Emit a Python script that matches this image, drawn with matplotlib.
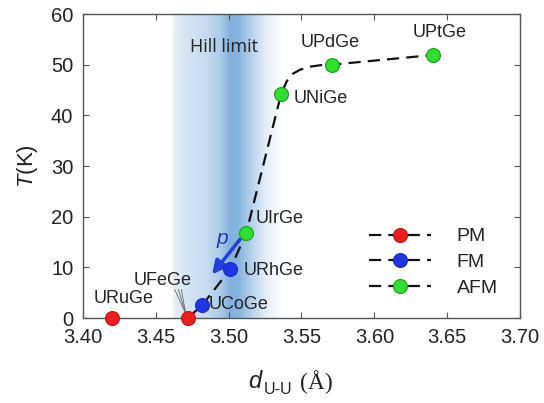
import numpy as np
import matplotlib
matplotlib.use('Agg')
import matplotlib.pyplot as plt
from matplotlib.lines import Line2D
from matplotlib.colors import LinearSegmentedColormap

plt.rcParams['font.family'] = 'Liberation Sans'
plt.rcParams['mathtext.fontset'] = 'custom'
plt.rcParams['mathtext.it'] = 'Liberation Sans:italic'
plt.rcParams['mathtext.rm'] = 'Liberation Sans'

# compounds: d_U-U (A), T (K)
names = ['URuGe', 'UFeGe', 'UCoGe', 'URhGe', 'UIrGe', 'UNiGe', 'UPdGe', 'UPtGe']
d_uu = [3.420, 3.472, 3.482, 3.501, 3.512, 3.536, 3.571, 3.640]
temp = [0.0, 0.0, 2.6, 9.6, 16.7, 44.2, 50.0, 51.9]
state = ['PM', 'PM', 'FM', 'FM', 'AFM', 'AFM', 'AFM', 'AFM']

# dashed guide curve
curve_x = [3.472, 3.482, 3.501, 3.512, 3.536, 3.540, 3.544, 3.549, 3.556, 3.563, 3.571, 3.600, 3.640]
curve_y = [0.0, 2.6, 9.6, 16.7, 44.2, 46.8, 48.2, 49.0, 49.6, 49.9, 50.0, 50.8, 51.9]

hill_lo, hill_hi = 3.462, 3.537

colors = {'PM': '#ee1c1c', 'FM': '#1f35e6', 'AFM': '#2ee02e'}
edges = {'PM': '#c81010', 'FM': '#1a2bc0', 'AFM': '#18a018'}

fig = plt.figure(figsize=(5.44, 4.03), dpi=100)
ax = fig.add_axes([83/544, 1-318/403, 437/544, 304/403])
ax.set_xlim(3.40, 3.70)
ax.set_ylim(0, 60)

# Hill limit band (gradient)
xs = np.linspace(hill_lo, hill_hi, 400)
prof = np.interp(xs, [3.462, 3.470, 3.485, 3.495, 3.501, 3.507, 3.515, 3.525, 3.537],
                 [0.12, 0.22, 0.30, 0.45, 0.66, 0.62, 0.40, 0.15, 0.0])
cmap = LinearSegmentedColormap.from_list('hill', ['#ffffff', '#3f88cc'])
ax.imshow(prof[None, :], extent=[hill_lo, hill_hi, 0, 60], aspect='auto',
          cmap=cmap, vmin=0, vmax=1, zorder=0, interpolation='bilinear')
ax.text(3.497, 53.5, 'Hill limit', fontsize=13, color='#222222',
        ha='center', va='center', family='Open Sans')

ax.plot(curve_x, curve_y, color='#111111', lw=1.6, ls=(0, (5.5, 3.2)), zorder=2)

for x, y, s in zip(d_uu, temp, state):
    ax.plot(x, y, 'o', ms=10, mfc=colors[s], mec=edges[s], mew=0.8,
            zorder=4, clip_on=False)

# pressure arrow
ax.annotate('', xy=(3.4886, 8.6), xytext=(3.508, 15.6),
            arrowprops=dict(arrowstyle='-|>,head_length=0.8,head_width=0.4',
                            color='#2040d8', lw=2.5, shrinkA=0, shrinkB=0), zorder=3)
ax.text(3.4955, 15.6, 'p', fontsize=15, style='italic', color='#1f35c0',
        ha='center', va='center')

lab = dict(fontsize=13, color='#222222', va='center')
ax.text(3.428, 3.9, 'URuGe', ha='center', **lab)
ax.text(3.455, 7.4, 'UFeGe', ha='center', **lab)
ax.text(3.486, 2.6, 'UCoGe', ha='left', **lab)
ax.text(3.5105, 9.3, 'URhGe', ha='left', **lab)
ax.text(3.5185, 19.7, 'UIrGe', ha='left', **lab)
ax.text(3.5445, 43.4, 'UNiGe', ha='left', **lab)
ax.text(3.5697, 54.4, 'UPdGe', ha='center', **lab)
ax.text(3.6450, 56.4, 'UPtGe', ha='center', **lab)
for dx in (-0.0025, 0.0, 0.002):
    ax.plot([3.4655 + dx, 3.4705], [5.6, 0.9], color='#666666', lw=0.6, zorder=3)

ax.set_xticks(np.arange(3.40, 3.701, 0.05))
ax.set_xticklabels(['3.40', '3.45', '3.50', '3.55', '3.60', '3.65', '3.70'])
ax.set_yticks(range(0, 61, 10))
ax.tick_params(direction='in', top=True, right=True, length=4, width=0.8,
               color='#555555', labelsize=14.5, labelcolor='#222222', pad=7)
for sp in ax.spines.values():
    sp.set_color('#555555')
    sp.set_linewidth(1.0)

handles = [Line2D([], [], color='#111111', lw=1.6, ls=(0, (5.5, 3.2)), marker='o',
                  ms=10, mfc=colors[k], mec=edges[k], mew=0.8) for k in ['PM', 'FM', 'AFM']]
ax.legend(handles, ['PM', 'FM', 'AFM'], loc='center left', bbox_to_anchor=(0.615, 0.183),
          frameon=False, fontsize=14, handlelength=3.2, handletextpad=1.3,
          labelspacing=0.42, labelcolor='#222222')

ax.set_ylabel('$T$(K)', fontsize=16, color='#222222', labelpad=8)
fig.text(255/544, 1-382/403, 'd', fontsize=17, style='italic', ha='center', va='center',
         color='#222222')
fig.text(278/544, 1-389/403, 'U-U', fontsize=11.5, ha='center', va='center', color='#222222')
fig.text(316/544, 1-382/403, '(Å)', fontsize=17, family='Liberation Serif',
         ha='center', va='center', color='#222222')

fig.savefig('out.png', dpi=100)
